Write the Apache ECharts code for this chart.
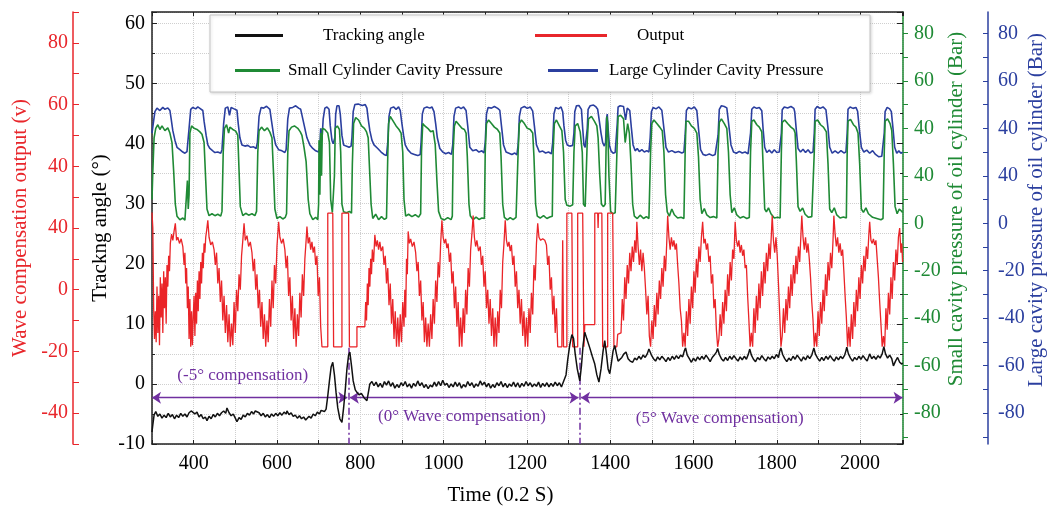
<!DOCTYPE html>
<html>
<head>
<meta charset="utf-8">
<script src="https://cdn.jsdelivr.net/npm/echarts@6/dist/echarts.min.js"></script>
<style>html,body{margin:0;padding:0;background:#fff;overflow:hidden}#c{width:1048px;height:507px}</style>
</head>
<body>
<div id="c"></div>
<script>
// ---------------- data (time in 0.2 s units) ----------------
const xLabelValues = [400, 600, 800, 1000, 1200, 1400, 1600, 1800, 2000];
const redTickValues = [-40, -20, 0, 20, 40, 60, 80];
const redTickLabels = ['-40', '-20', '0', '40', '40', '60', '80'];
const pressureTickValues = [-80, -60, -40, -20, 0, 20, 40, 60, 80];
const pressureTickLabels = ['-80', '-60', '-40', '-20', '0', '40', '40', '60', '80'];
const pressureMinorTicks = [-90, -80, -70, -60, -50, -40, -30, -20, -10, 0, 10, 20, 30, 40, 50, 60, 70, 80];

const trackingAngle = [
[300,-8],[302,-6.8],[305,-5.2],[309,-4.6],[314,-5.4],[319,-5],[324,-5.7],[329,-5.2],[334,-5.6],[339,-4.9],[344,-5.5],[349,-5.1],[354,-5.8],[359,-5.2],[364,-5.6],[369,-4.9],[374,-5.4],[379,-5],[384,-5.5],[389,-4.8],[394,-4.5],[398,-4.2],[403,-5],[408,-4.7],[413,-5.5],[418,-5.1],[423,-5.8],[428,-5.5],[432,-6.1],[437,-5.4],[442,-5.8],[447,-5.1],[452,-5.5],[457,-4.9],[462,-5.3],[467,-4.8],[472,-4.5],[477,-4.9],[480,-4],[485,-4.8],[490,-5.3],[495,-5],[500,-5.7],[504,-6.3],[509,-5.6],[514,-5.9],[519,-5.2],[524,-5.5],[529,-4.9],[534,-5.2],[539,-4.6],[544,-5],[548,-4.5],[552,-4.2],[557,-4.8],[562,-5.3],[567,-4.9],[572,-5.5],[577,-5.1],[582,-5.6],[587,-5],[592,-5.4],[597,-4.9],[602,-5.3],[607,-4.8],[612,-5.2],[617,-4.7],[622,-5],[624,-4.5],[629,-5.1],[634,-4.8],[639,-5.4],[644,-5.2],[649,-5.7],[654,-5.3],[659,-5.8],[664,-5.5],[669,-6],[672,-6.1],[677,-5.4],[682,-5.7],[687,-5],[692,-5.3],[697,-4.7],[702,-5],[706,-4.4],[710,-4.2],[714,-4.6],[718,-4.2],[722,-2],[726,0.5],[730,2.8],[734,3.6],[738,1.5],[742,-1.5],[746,-4],[751,-5.8],[756,-6.4],[760,-4],[764,-1],[768,2.5],[772,4.8],[775,5.3],[779,3],[783,0.5],[788,-1],[792,-1.4],[797,-1.8],[803,-1.6],[809,-2.3],[813,-2.6],[816,-2.8],[820,-1.2],[823,0],[828,0.4],
[833,-0.3],[838,0.3],[843,-0.5],[848,0.1],[853,-0.6],[858,0.4],[863,-0.2],[868,0.5],[873,-0.4],[878,0.2],[883,-0.7],[888,-0.1],[893,-0.6],[898,0.2],[903,-0.3],[908,0.4],[913,-0.5],[918,0],[923,-0.7],[928,0.1],[933,-0.4],[938,0.5],[943,-0.3],[948,0.2],[953,-0.6],[958,-0.1],[963,-0.8],[968,-0.2],[973,-0.5],[978,0.3],[983,-0.4],[988,0.4],[993,-0.3],[998,0.6],[1003,-0.2],[1008,0.1],[1013,-0.6],[1018,0],[1023,-0.5],[1028,0.3],[1033,-0.4],[1038,0.2],[1043,-0.7],[1048,-0.1],[1053,-0.5],[1058,0.4],[1063,-0.3],[1068,0.2],[1073,-0.6],[1078,0],[1083,-0.4],[1088,0.5],[1093,-0.2],[1098,0.3],[1103,-0.5],[1108,0.1],[1113,-0.7],[1118,-0.1],[1123,-0.6],[1128,0.2],[1133,-0.3],[1138,0.4],[1143,-0.5],[1148,0.1],[1153,-0.6],[1158,0],[1163,-0.4],[1168,0.3],[1173,-0.5],[1178,0.2],[1183,-0.6],[1188,0.1],[1193,-0.4],[1198,0.4],[1203,-0.3],[1208,0.2],[1213,-0.5],[1218,0],[1223,-0.4],[1228,0.3],[1233,-0.6],[1238,0.1],[1243,-0.4],[1248,0.2],[1253,-0.5],[1258,0.1],[1263,-0.4],[1268,0.3],[1273,-0.3],[1278,0.2],[1283,-0.5],[1288,0.4],[1291,0.5],
[1294,1.5],[1298,4],[1303,6.5],[1308,8.2],[1312,7.6],[1316,5],[1321,2.5],[1327,0.5],[1331,3],[1335,6.5],[1339,8.6],[1344,7.5],[1351,6],[1357,4.6],[1363,3.3],[1368,1.5],[1373,0.3],[1378,2.5],[1383,5.5],[1387,7.2],[1391,5],[1395,2.5],[1399,1.7],[1403,3.5],[1407,5.5],[1411,6.4],[1415,5],[1419,3.8],[1423,3.6],[1428,4.4],[1433,5],[1438,5.3],[1443,4.2],[1448,3.8],[1454,3.6],[1459,4.3],[1464,4],[1469,4.6],[1474,4.1],[1479,4.8],[1484,4.4],[1489,5],[1493,5.8],[1495,6.1],[1499,4.8],[1504,4.2],[1509,3.8],[1514,4.5],[1519,4],[1524,4.6],[1529,4.2],[1534,3.7],[1539,4.4],[1544,3.9],[1549,4.6],[1554,4.1],[1559,4.7],[1564,4.2],[1569,4.8],[1574,4.5],[1578,5.5],[1581,6],[1585,4.8],[1590,4.2],[1595,3.6],[1600,4.3],[1605,3.8],[1610,4.5],[1615,4],[1620,4.6],[1625,4.1],[1630,4.8],[1635,4.3],[1640,3.7],[1645,4.4],[1650,4.8],[1655,5.3],[1658,5.9],[1662,4.9],[1667,4.2],[1672,3.8],[1677,4.4],[1682,3.9],[1687,4.6],[1692,4.1],[1697,4.7],[1702,4.2],[1707,3.8],[1712,4.5],[1717,4],[1722,4.6],[1727,4.1],[1732,5],[1735,5.8],[1739,4.8],[1744,4.1],[1749,3.7],[1754,4.4],[1759,4],[1764,4.7],[1769,4.2],[1774,3.8],[1779,4.5],[1784,4.1],[1789,4.6],[1794,4.2],[1799,4.9],[1804,4.4],[1807,5.4],[1810,6],[1814,4.9],[1819,4.2],[1824,3.7],[1829,4.3],[1834,3.9],[1839,4.6],[1844,4.1],[1849,4.8],[1854,4.3],[1859,3.8],[1864,4.5],[1869,4],[1874,4.7],[1879,4.2],[1884,4.8],[1887,5.5],[1889,6],[1893,4.9],[1898,4.3],[1903,3.8],[1908,4.4],[1913,3.9],[1918,4.6],[1923,4.1],[1928,4.7],[1933,4.2],[1938,3.8],[1943,4.5],[1948,4],[1953,4.6],[1958,4.2],[1963,4.8],[1966,5.5],[1968,6.1],[1972,5],[1977,4.3],[1982,3.8],[1987,4.4],[1992,4],[1997,4.6],[2002,4.1],[2007,4.7],[2012,4.2],[2017,3.8],[2023,5],[2028,4.2],[2033,4.6],[2038,4.1],[2043,4.7],[2048,4.3],[2053,5],[2057,6.2],[2061,5],[2066,4.3],[2071,4.8],[2076,4.2],[2080,3],[2085,3.8],[2090,4.4],[2095,3.6],[2100,3.3],[2102,3.5]
];

const outputV = [
[300,25],[302,20],[304,-6],[306,-16],[308,-7],[310,-17],[312,1],[314,-14],[316,-2],[318,-18],[320,4],[322,-9],[324,2],[326,-14],[328,6],[330,-6],[332,4],[334,-11],[336,8],[338,1],[340,11],[342,6],[344,15],[347,18],[350,16],[353,19],[356,21.5],[359,16],[362,17],[366,15],[370,16.5],[374,14],[377,8],[379,12],[381,2],[383,7],[385,-6],[387,1],[389,-16],[391,-3],[393,-18.5],[395,-7],[397,-18],[399,-9],
[401,-2],[403,-15],[405,-1],[407,-11],[409,3],[411,-7],[413,6],[415,-3],[417,9],[419,2],[421,12],[423,7],[425,15],[427,12],[429,17],[431,19],[434,22.5],[437,17],[441,14.5],[445,15.5],[449,13],[452,8],[455,12],[458,2],[461,7],[464,-4],[467,3],[470,-10],[473,-2],[476,-14],[479,-5],[482,-17],[485,-8],[488,-18.5],
[491,-11],[494,-18],[497,-4],[500,-14],[503,0],[506,-7],[509,5],[512,0],[515,11],[518,16],[521,21.5],[524,16],[528,17.5],[532,14],[536,15.5],[540,12],[543,6],[546,10],[549,0],[552,5],[555,-6],[558,0],[561,-12],[564,-4],[567,-16],[570,-8],[573,-18.5],
[576,-10],[579,-17],[582,-3],[585,-12],[588,3],[591,-6],[594,8],[597,2],[600,14],[602,18],[604,22],[607,17],[611,15],[615,16.5],[619,13],[622,7],[625,11],[628,-2],[631,4],[634,-10],[637,-2],[640,-16],[643,-6],[646,-18.5],[649,-8],
[652,-15],[655,-1],[658,-9],[661,5],[664,-2],[667,10],[670,16],[672,20.5],[675,15],[678,17],[681,13],[684,15.5],[687,12],[690,14],[693,8],[696,11],[699,-2],[702,4],[705,-12],[708,-18.5],
[722,-18.5],[722,24.8],[734,24.8],[736,-18.5],[756,-18.5],[756,24.8],[772,24.8],[774,-18.5],[792,-18.5],[792,-12],[811,-12],
[813,-4],[815,-10],[817,2],[819,-5],[821,7],[823,1],[825,10],[827,5],[829,13],[832,9],[835,17.8],[838,14],[841,16],[844,13],[847,15.5],[850,12.5],[854,14],[857,8],[860,11],[863,2],[866,7],[869,-5],[872,2],[875,-11],[878,-3],[881,-16],[884,-7],[887,-18.5],[890,-9],[893,-18.5],[896,-8],[899,-17],[902,-4],[905,-12],
[907,0],[909,-9],[911,10],[913,5],[915,18.9],[918,15],[921,16.5],[925,14],[929,15.5],[933,12],[936,6],[939,9],[942,-2],[945,3],[948,-10],[951,-4],[954,-17],[957,-9],[960,-18.5],[963,-11],[966,-18.5],[969,-8],[972,-16],
[975,-3],[978,-11],[981,3],[984,-4],[987,9],[990,4],[993,15],[996,22.5],[999,17],[1002,15],[1005,16.5],[1008,13.5],[1011,15],[1014,9],[1017,12],[1020,2],[1023,6],[1026,-6],[1029,1],[1032,-12],[1035,-4],[1038,-18.5],[1041,-9],[1044,-18.5],[1047,-6],[1050,-14],
[1053,0],[1056,-8],[1059,7],[1062,1],[1065,13],[1068,18],[1071,24],[1074,17],[1077,14],[1080,16],[1084,12.5],[1088,14],[1091,8],[1094,11],[1097,1],[1100,6],[1103,-6],[1106,0],[1109,-11],[1112,-3],[1115,-15],[1118,-6],[1121,-18.5],[1124,-9],[1127,-18.5],[1130,-7],
[1133,-14],[1136,0],[1139,-6],[1142,9],[1145,15],[1148,22.5],[1151,16],[1154,14],[1157,15.5],[1160,12.5],[1163,14.5],[1166,8],[1169,11],[1172,1],[1175,6],[1178,-6],[1181,0],[1184,-11],[1187,-3],[1190,-15],[1193,-7],[1196,-18.5],[1199,-9],[1202,-18.5],[1205,-6],
[1208,-14],[1211,-1],[1214,-8],[1217,8],[1220,3],[1223,15],[1226,21.5],[1229,17],[1233,16],[1238,16.5],[1243,16],[1247,14.5],[1250,8],[1253,11],[1256,0],[1259,4],[1262,-8],[1265,-2],[1268,-14],[1271,-6],[1274,-18.5],[1284,-18.5],[1286,16],[1288,-18.5],
[1296,-18.5],[1296,24.8],[1308,24.8],[1310,-18.5],[1322,-18.5],[1322,24.8],[1334,24.8],[1337,-18.5],[1339,-11.3],[1363,-11.3],[1363,24.8],[1370,24.8],[1371,20],[1372,24.8],[1380,24.8],[1382,-18.5],[1394,-18.5],[1394,24.8],[1406,24.8],[1409,-18.5],[1416,-18.5],[1418,-14.5],[1426,-14],
[1429,-3],[1432,-10],[1435,4],[1438,-3],[1441,8],[1444,2],[1447,12],[1450,6],[1453,14],[1456,9],[1459,16],[1462,12],[1464,22],[1467,14],[1470,8],[1473,13],[1476,6],[1479,12],[1482,7],[1485,0],[1488,-8],[1491,-2],[1494,-15],[1497,-18.5],[1500,-10],
[1503,-16],[1506,-5],[1509,-12],[1512,-1],[1515,-8],[1518,3],[1521,-3],[1524,7],[1527,1],[1530,11],[1533,6],[1536,16],[1538,24],[1541,17],[1544,13],[1547,17],[1550,14],[1553,16],[1556,13],[1559,15],[1562,8],[1565,2],[1568,-6],[1571,-10],[1574,-18.5],[1577,-14],
[1580,-18.5],[1583,-7],[1586,-15],[1589,-3],[1592,-11],[1595,1],[1598,-6],[1601,6],[1604,-1],[1607,10],[1610,4],[1613,14],[1616,9],[1619,17],[1622,22],[1625,15],[1628,16.5],[1631,13],[1634,15],[1637,9],[1640,11],[1643,2],[1646,5],[1649,-6],[1652,-3],[1655,-13],[1658,-18.5],[1661,-16],
[1664,-8],[1667,-15],[1670,-4],[1673,-11],[1676,0],[1679,-7],[1682,5],[1685,-2],[1688,9],[1691,3],[1694,13],[1697,10],[1700,22],[1703,16],[1706,14],[1709,16],[1712,12],[1715,14.5],[1718,11],[1721,13],[1724,7],[1727,8],[1730,-2],[1733,-10],[1736,-18.5],
[1739,-14],[1742,-18.5],[1745,-6],[1748,-14],[1751,-2],[1754,-10],[1757,2],[1760,-6],[1763,6],[1766,-2],[1769,9],[1772,2],[1775,12],[1778,6],[1781,15],[1784,10],[1787,18],[1789,24],[1792,16],[1795,12],[1798,17],[1801,11],[1804,2],[1807,-8],[1810,-18.5],[1813,-15],
[1816,-6],[1819,-14],[1822,-3],[1825,-10],[1828,1],[1831,-6],[1834,5],[1837,-2],[1840,8],[1843,2],[1846,11],[1849,5],[1852,14],[1855,9],[1858,18],[1860,24],[1863,17],[1866,13],[1869,17],[1872,12],[1875,15],[1878,10],[1881,4],[1884,-4],[1887,-10],[1890,-18.5],[1893,-14],[1896,-18.5],
[1899,-7],[1902,-15],[1905,-4],[1908,-11],[1911,0],[1914,-7],[1917,5],[1920,-2],[1923,9],[1926,3],[1929,12],[1932,7],[1935,16],[1937,24],[1940,18],[1943,14],[1946,17],[1949,12],[1952,15],[1955,11],[1958,13],[1961,6],[1964,-2],[1967,-9],[1970,-18.5],[1973,-12],[1976,-18.5],
[1979,-8],[1982,-16],[1985,-4],[1988,-12],[1991,0],[1994,-7],[1997,4],[2000,-3],[2003,8],[2006,2],[2009,11],[2012,6],[2015,14],[2018,10],[2021,18],[2023,22],[2026,16],[2029,15],[2032,16.5],[2035,14.5],[2038,16],[2041,10],[2044,4],[2047,-4],[2050,-11],[2053,-18.5],[2056,-15],[2059,-18.5],
[2062,-6],[2065,-13],[2068,-1],[2071,-8],[2074,4],[2077,-3],[2080,9],[2083,3],[2086,13],[2089,8],[2092,17],[2095,20],[2098,12],[2100,15],[2102,9]
];

const smallCylP = [
[300,10],[302,22],[305,36],[309,40],[314,41.5],[319,39.5],[324,41],[331,39],[338,40.2],[343,38],[348,34],[352,22],[356,8],[360,3],[367,1.5],[374,2.2],[379,1.3],[383,2],[385,18],[387,6],[389,12],[391,38],[395,41],[401,40],[408,39.5],[415,38.5],[420,37.5],[425,34],[429,18],[432,6],[437,3.2],[444,4],[451,3.2],[458,3.8],[465,3],[468,5],[471,30],[474,40],[479,41.5],[484,38],[487,40.5],[494,39.5],[501,38.8],[506,37],[509,22],[512,7],[518,3.2],[525,4.2],[532,3.4],[540,4],[547,3.2],[551,5],[554,30],[557,39],[563,40.5],[570,39],[577,40.2],[583,38.4],[588,36],[592,20],[595,6],[600,2],[607,2.8],[614,1.8],[620,2.5],[623,4],[626,30],[629,39],[635,40.5],[642,41],[650,40],[656,38.5],[660,37],[665,32],[670,26],[675,10],[679,4],[686,1.5],[693,2.5],[698,1.5],
[700,8],[701,35],[703,12],[705,38],[707,20],[709,40],[715,39.5],[722,38],[726,34],[729,10],[733,4.5],[736,4],[738,20],[740,40],[745,41],[750,39.5],[753,30],[756,8],[760,4.8],[767,4.4],[774,5],[779,4.2],
[781,25],[784,42],[789,44.5],[796,43.5],[803,41],[810,40],[815,38.5],[819,36],[823,20],[826,8],[830,2],[837,3.8],[844,1.5],[851,2.8],[858,1.6],[863,2.2],
[866,28],[868,42],[872,45],[879,43],[886,41],[893,39.5],[898,38],[902,30],[905,10],[909,3],[916,3.8],[924,2.8],[932,3.6],[940,2.6],[945,4],
[947,30],[950,42],[955,41],[962,40],[969,38.6],[975,39],[980,33],[984,18],[988,5],[994,2],[1002,1.4],[1010,2.4],[1018,1.5],[1021,3],
[1023,30],[1026,41],[1030,43],[1037,41.5],[1044,40],[1050,39.5],[1054,38],[1057,28],[1061,8],[1064,3.2],[1071,1.5],[1078,2.6],[1085,1.6],[1092,2.2],[1098,2],
[1100,30],[1103,42],[1108,43.5],[1115,42],[1122,40.5],[1129,39.6],[1135,38],[1138,28],[1142,8],[1146,2.5],[1153,1.4],[1160,2.4],[1167,1.5],[1174,2.5],[1177,2],
[1179,30],[1182,42],[1187,43.5],[1194,42],[1201,40],[1208,39.5],[1214,38],[1217,28],[1221,8],[1225,3],[1232,2.2],[1240,3.2],[1248,2],[1255,2.6],[1261,3],
[1263,30],[1266,42],[1271,43.5],[1278,41],[1284,39],[1288,30],[1292,10],[1296,7.6],[1304,7.2],[1310,7.8],
[1313,30],[1316,41],[1322,42],[1328,38.5],[1333,30],[1336,8],[1340,7],[1343,7.4],
[1345,35],[1348,44],[1355,45],[1362,43],[1368,41],[1371,36],[1375,20],[1379,8],[1384,7],[1388,8],
[1390,30],[1392,45],[1394,42],[1397,20],[1401,5],[1406,4],[1412,4.4],[1415,4],
[1417,35],[1419,45],[1425,45.5],[1432,44],[1436,34],[1439,33.5],[1442,42],[1446,38],[1450,25],[1454,8],[1458,3],[1465,2],[1472,3.4],[1480,2],[1487,2.8],[1493,2],
[1497,30],[1500,42],[1505,43.5],[1512,42],[1519,40.5],[1525,39],[1529,30],[1533,12],[1537,4.8],[1542,3],[1548,6],[1554,3.6],[1562,2.2],[1570,2.5],[1577,2],
[1580,30],[1582,43],[1588,43],[1595,41],[1602,40],[1608,38],[1612,28],[1616,10],[1620,4],[1626,6.2],[1632,3.5],[1640,2.4],[1648,2.8],[1656,2.2],
[1659,30],[1662,42.5],[1667,44],[1674,42],[1680,40],[1684,30],[1688,12],[1692,4.5],[1698,6.5],[1704,3.5],[1712,2.2],[1720,2.8],[1728,2],[1734,2.4],
[1737,30],[1740,43],[1745,43.5],[1752,41.5],[1758,40.5],[1764,38.5],[1767,25],[1771,6],[1775,4.8],[1780,6.5],[1786,4],[1794,2.2],[1802,2.5],[1808,2.2],
[1811,30],[1813,42.5],[1819,43.5],[1826,42],[1834,40.5],[1841,39.5],[1844,38],[1847,26],[1851,7],[1856,5],[1862,6.4],[1868,3.8],[1876,2.5],[1884,2.8],[1888,2.2],
[1890,30],[1892,43],[1898,43.5],[1905,41.5],[1912,40.5],[1919,38.5],[1923,25],[1927,6],[1932,4.5],[1938,6.5],[1944,3.5],[1952,2.2],[1960,2.6],[1967,2.2],
[1969,30],[1971,43],[1977,43.8],[1984,41.5],[1990,40.5],[1995,38],[1999,25],[2003,6],[2008,4.6],[2014,6.5],[2020,4],[2030,2.5],[2040,2],[2050,1.5],[2055,2],
[2058,30],[2060,43],[2066,44],[2072,42],[2076,39],[2080,25],[2084,7],[2089,4],[2094,6],[2100,5],[2102,4.5]
];

const largeCylP = [
[300,38],[303,42],[307,47],[312,48.5],[319,47.5],[326,48.8],[331,48],[338,48.6],[343,47.5],[346,44],[350,39],[355,35],[360,32],[367,31],[374,30],[379,29.5],[384,30.2],
[386,31],[389,40],[393,48],[398,48.8],[405,48.2],[410,49],[415,48.4],[422,47.5],[425,43],[430,37],[434,33],[439,31.5],[446,30.5],[451,29.8],[458,30],[465,29.5],
[468,31],[472,42],[476,48.5],[482,49],[486,45.5],[490,48.8],[497,48.2],[504,47.6],[507,42],[511,36],[516,33],[523,32.5],[530,32.8],[537,32],[544,32.2],[550,31.5],
[553,34],[557,45],[562,48.8],[568,48.5],[575,49.3],[583,48],[587,43],[592,37],[597,33],[604,31],[612,30.5],[619,29.8],
[622,31],[626,44],[630,48.5],[638,48.8],[645,49.5],[652,48.5],[657,48],[662,44],[667,40],[672,36],[679,33],[686,31.5],[693,30.5],[700,30],
[703,32],[705,40],[708,35],[711,44],[715,48.5],[720,49],[725,48],[728,41],[732,35],[735,33.5],[739,36],[741,46],[744,49.5],[749,49.5],[752,46],[756,37],[760,33],[766,32.5],[773,32],[778,32.5],
[780,36],[783,47],[787,50],[795,50.2],[805,49.6],[812,50],[816,48.5],[819,44],[823,39],[828,35],[833,33],[842,31.5],[850,30],[857,29],[863,28.5],
[866,34],[869,45],[873,48.5],[880,49],[886,48],[892,49],[896,47.5],[900,42],[904,37],[908,33],[914,31],[922,29.5],[930,29],[938,28.5],[944,29],
[946,34],[949,46],[953,48.5],[960,49],[967,48.5],[972,49],[977,47],[981,42],[985,36],[991,31.5],[998,30],[1005,29.3],[1012,29.8],[1019,29],
[1022,33],[1025,45],[1029,48.5],[1036,49],[1042,48.3],[1048,49],[1054,47.5],[1058,41],[1063,32],[1070,30.5],[1078,31],[1085,30],[1092,30.5],[1097,29.6],
[1100,34],[1103,46],[1107,48.8],[1115,48.5],[1122,49.2],[1130,48.4],[1135,47.6],[1139,41],[1144,33],[1150,30],[1157,29.5],[1164,29],[1171,29.6],[1176,28.8],
[1179,33],[1182,45],[1186,48.5],[1194,49.2],[1201,48.4],[1208,49],[1214,47.2],[1218,41],[1223,33],[1230,30],[1238,30.4],[1245,29.6],[1252,30],[1259,29.2],
[1262,34],[1265,46],[1269,48.8],[1276,48.2],[1282,49],[1286,47],[1289,41],[1293,35],[1297,33],[1303,32.5],[1310,32.8],
[1313,38],[1315,47],[1319,49.5],[1325,49.6],[1331,48],[1334,40],[1337,33],[1340,32],[1343,32.5],
[1345,40],[1347,48],[1352,49.5],[1360,49.8],[1366,49],[1370,48],[1374,43],[1378,38],[1382,34],[1386,32.5],
[1389,34],[1391,44],[1393,46],[1395,40],[1398,33],[1402,30.5],[1407,29.5],[1412,29.8],[1415,30],
[1417,42],[1419,49],[1424,49.5],[1432,49.2],[1437,43.5],[1441,48.5],[1447,47.5],[1451,40],[1455,33],[1460,30.5],[1465,31.5],[1470,30.2],[1476,31],[1482,30],[1488,30.6],[1493,30],
[1496,36],[1499,47],[1503,48.8],[1510,48.2],[1517,49],[1524,47.6],[1529,40],[1534,32],[1540,30],[1548,30.6],[1556,29.8],[1564,30.2],[1572,29.6],[1577,30],
[1580,37],[1583,47.5],[1588,48.8],[1595,48.2],[1602,49],[1608,47.5],[1612,40],[1617,31],[1623,29],[1630,28.6],[1638,29.2],[1646,28.5],[1652,29],[1656,28.6],
[1659,37],[1662,48],[1667,49.5],[1674,49.2],[1680,48.6],[1685,41],[1690,33],[1696,30],[1703,29.5],[1710,30.3],[1717,29.6],[1724,30],[1731,29.2],[1734,29.6],
[1737,38],[1740,48],[1745,49],[1752,48.4],[1758,48.8],[1764,47.4],[1767,40],[1771,32],[1776,29.8],[1782,30.8],[1788,29.6],[1794,31],[1800,29.8],[1806,30],
[1811,38],[1813,47.8],[1818,49],[1826,48.6],[1834,49.2],[1841,48.4],[1843,47],[1847,39],[1851,31.5],[1857,30],[1863,31.2],[1869,29.8],[1875,31],[1881,29.6],[1887,30],
[1890,38],[1892,48],[1897,49.2],[1904,48.4],[1911,49],[1918,47.8],[1923,40],[1927,32],[1933,29.5],[1940,30.5],[1947,29.5],[1954,30.6],[1961,29.6],[1966,30],
[1969,38],[1971,48],[1976,49],[1983,48.4],[1990,48.8],[1994,47.2],[1998,40],[2003,32],[2009,30],[2016,30.8],[2023,29.5],[2030,30.6],[2037,29],[2045,28],[2052,28.2],[2055,29],
[2058,38],[2060,47],[2065,48.8],[2071,48.2],[2075,47],[2079,40],[2083,32],[2088,29.5],[2093,30.5],[2098,29.5],[2102,30]
];

// compensation phases: boundaries and labels
const phaseBounds = [300, 772, 1327, 2102];
const phaseLabels = ['(-5° compensation)', '(0° Wave compensation)', '(5° Wave compensation)'];

// ---------------- chart ----------------
const FONT = "'Liberation Serif', 'Times New Roman', serif";
const RED = '#e8262b', GREEN = '#1f8a35', BLUE = '#2b3f9f', PURPLE = '#7030a0';
const grid = '#cfcfcf';

function lookup(vals, labels) {
  return function (v) {
    for (let i = 0; i < vals.length; i++) if (Math.abs(vals[i] - v) < 1e-6) return labels[i];
    return '';
  };
}

const chart = echarts.init(document.getElementById('c'), null, { renderer: 'canvas' });

const arrowY = -2.3;
const option = {
  animation: false,
  backgroundColor: '#fff',
  textStyle: { fontFamily: FONT },
  grid: { left: 152, right: 145, top: 12, bottom: 63, containLabel: false, outerBoundsMode: 'none' },
  graphic: [{
    type: 'rect', z: 10, shape: { x: 210, y: 15, width: 660, height: 77 },
    style: { fill: '#fff', stroke: '#c4c4c4', lineWidth: 1, shadowBlur: 3, shadowColor: 'rgba(0,0,0,0.15)', shadowOffsetX: 1, shadowOffsetY: 1 }
  }],
  legend: [
    { data: ['Tracking angle'], left: 235, top: 27, padding: 0, itemWidth: 48, itemHeight: 3, icon: 'rect', z: 20,
      textStyle: { fontFamily: FONT, fontSize: 17, color: '#000', padding: [0, 0, 0, 35] } },
    { data: ['Output'], left: 535, top: 27, padding: 0, itemWidth: 72, itemHeight: 3, icon: 'rect', z: 20,
      textStyle: { fontFamily: FONT, fontSize: 17, color: '#000', padding: [0, 0, 0, 25] } },
    { data: ['Small Cylinder Cavity Pressure'], left: 235, top: 62, padding: 0, itemWidth: 45, itemHeight: 3, icon: 'rect', z: 20,
      textStyle: { fontFamily: FONT, fontSize: 17, color: '#000', padding: [0, 0, 0, 3] } },
    { data: ['Large Cylinder Cavity Pressure'], left: 548, top: 62, padding: 0, itemWidth: 50, itemHeight: 3, icon: 'rect', z: 20,
      textStyle: { fontFamily: FONT, fontSize: 17, color: '#000', padding: [0, 0, 0, 6] } }
  ],
  xAxis: [
    { type: 'value', min: 300, max: 2103, interval: 100, position: 'bottom',
      name: 'Time (0.2 S)', nameLocation: 'middle', nameGap: 41, nameMoveOverlap: false,
      nameTextStyle: { fontFamily: FONT, fontSize: 21, color: '#000', padding: [0, 54, 0, 0] },
      axisLine: { onZero: false, lineStyle: { color: '#222', width: 1.5 } },
      axisTick: { inside: true, length: 4, lineStyle: { color: '#222' } },
      axisLabel: { fontFamily: FONT, fontSize: 20, color: '#000', margin: 10, formatter: v => xLabelValues.includes(v) ? String(v) : '' },
      splitLine: { show: true, lineStyle: { color: grid, type: 'dotted' } } },
    { type: 'value', min: 300, max: 2103, interval: 100, position: 'top',
      axisLine: { onZero: false, lineStyle: { color: '#222', width: 1.5 } },
      axisTick: { inside: true, length: 4, lineStyle: { color: '#222' } },
      axisLabel: { show: false }, splitLine: { show: false } }
  ],
  yAxis: [
    { // 0: tracking angle
      type: 'value', min: -10, max: 61.9, interval: 10, position: 'left',
      name: 'Trackng angle (°)', nameLocation: 'middle', nameGap: 41, nameRotate: 90, nameMoveOverlap: false,
      nameTextStyle: { fontFamily: FONT, fontSize: 21, color: '#000' },
      axisLine: { show: true, onZero: false, lineStyle: { color: '#222', width: 1.5 } },
      axisTick: { show: true, inside: true, length: 5, lineStyle: { color: '#222' } },
      minorTick: { show: true, splitNumber: 2, length: 3, lineStyle: { color: '#222' } },
      axisLabel: { fontFamily: FONT, fontSize: 20, color: '#000', margin: 7 },
      splitLine: { show: true, lineStyle: { color: grid, type: 'dotted' } },
      minorSplitLine: { show: true, lineStyle: { color: grid, type: 'dotted' } } },
    { // 1: wave compensation output
      type: 'value', min: -50, max: 90, interval: 10, position: 'left', offset: 79,
      name: 'Wave compensation output (v)', nameLocation: 'middle', nameGap: 42, nameRotate: 90, nameMoveOverlap: false,
      nameTextStyle: { fontFamily: FONT, fontSize: 21, color: RED },
      axisLine: { show: true, onZero: false, lineStyle: { color: RED, width: 1.5 } },
      axisTick: { show: true, inside: true, length: 6, lineStyle: { color: RED } },
      axisLabel: { fontFamily: FONT, fontSize: 20, color: RED, margin: 5, formatter: lookup(redTickValues, redTickLabels) },
      splitLine: { show: false } },
    { // 2: small cavity pressure
      type: 'value', min: -93, max: 89, position: 'right', offset: 0,
      name: 'Small cavity pressure of oil cylinder (Bar)', nameLocation: 'middle', nameGap: 43, nameRotate: 90, nameMoveOverlap: false,
      nameTextStyle: { fontFamily: FONT, fontSize: 21, color: GREEN, padding: [0, 0, 0, 38] },
      axisLine: { show: true, onZero: false, lineStyle: { color: GREEN, width: 1.5 } },
      axisTick: { show: true, inside: false, length: 5, customValues: pressureMinorTicks, lineStyle: { color: GREEN } },
      axisLabel: { fontFamily: FONT, fontSize: 20, color: GREEN, margin: 11, customValues: pressureTickValues, formatter: lookup(pressureTickValues, pressureTickLabels) },
      splitLine: { show: false } },
    { // 3: large cavity pressure
      type: 'value', min: -93, max: 89, position: 'right', offset: 85,
      name: 'Large cavity pressure of oil cylinder (Bar)', nameLocation: 'middle', nameGap: 38, nameRotate: 90, nameMoveOverlap: false,
      nameTextStyle: { fontFamily: FONT, fontSize: 21, color: BLUE, padding: [0, 0, 0, 36] },
      axisLine: { show: true, onZero: false, lineStyle: { color: BLUE, width: 1.5 } },
      axisTick: { show: true, inside: true, length: 5, customValues: pressureMinorTicks, lineStyle: { color: BLUE } },
      axisLabel: { fontFamily: FONT, fontSize: 20, color: BLUE, margin: 10, customValues: pressureTickValues, formatter: lookup(pressureTickValues, pressureTickLabels) },
      splitLine: { show: false } },
    { // 4: mirror ticks of tracking angle on the right frame
      type: 'value', min: -10, max: 61.9, interval: 10, position: 'right', offset: 0,
      axisLine: { show: false, onZero: false },
      axisTick: { show: true, inside: true, length: 6, lineStyle: { color: '#222' } },
      minorTick: { show: true, splitNumber: 2, length: 3, lineStyle: { color: '#222' } },
      axisLabel: { show: false }, splitLine: { show: false } }
  ],
  series: [
    { name: 'Large Cylinder Cavity Pressure', type: 'line', xAxisIndex: 0, yAxisIndex: 3, data: largeCylP,
      showSymbol: false, color: BLUE, lineStyle: { width: 1.6, color: BLUE }, z: 2 },
    { name: 'Small Cylinder Cavity Pressure', type: 'line', xAxisIndex: 0, yAxisIndex: 2, data: smallCylP,
      showSymbol: false, color: GREEN, lineStyle: { width: 1.6, color: GREEN }, z: 3 },
    { name: 'Output', type: 'line', xAxisIndex: 0, yAxisIndex: 1, data: outputV,
      showSymbol: false, color: RED, lineStyle: { width: 1.3, color: '#ea2428' }, z: 4 },
    { name: 'Tracking angle', type: 'line', xAxisIndex: 0, yAxisIndex: 0, data: trackingAngle,
      showSymbol: false, color: '#111', lineStyle: { width: 1.5, color: '#111' }, z: 5,
      markLine: {
        silent: true, symbol: ['arrow', 'arrow'], symbolSize: 9, precision: 3,
        label: { show: false },
        lineStyle: { color: PURPLE, width: 1.3, type: 'solid' },
        data: [
          [{ coord: [phaseBounds[0], arrowY] }, { coord: [phaseBounds[1] - 3, arrowY] }],
          [{ coord: [phaseBounds[1] + 3, arrowY] }, { coord: [phaseBounds[2] - 3, arrowY] }],
          [{ coord: [phaseBounds[2] + 3, arrowY] }, { coord: [phaseBounds[3], arrowY] }],
          [{ coord: [phaseBounds[1], 6], symbol: 'none', lineStyle: { type: [7, 3, 2, 3], width: 1.5 } }, { coord: [phaseBounds[1], -10], symbol: 'none' }],
          [{ coord: [phaseBounds[2], 6], symbol: 'none', lineStyle: { type: [7, 3, 2, 3], width: 1.5 } }, { coord: [phaseBounds[2], -10], symbol: 'none' }]
        ]
      },
      markPoint: {
        silent: true, symbol: 'rect', symbolSize: 1,
        itemStyle: { color: 'rgba(0,0,0,0)' },
        label: { show: true, position: 'inside', color: PURPLE, fontFamily: FONT, fontSize: 17, formatter: '{b}' },
        data: [
          { name: phaseLabels[0], coord: [518, 1.4] },
          { name: phaseLabels[1], coord: [1044, -5.5] },
          { name: phaseLabels[2], coord: [1663, -5.8] }
        ]
      } }
  ]
};
chart.setOption(option);
</script>
</body>
</html>
